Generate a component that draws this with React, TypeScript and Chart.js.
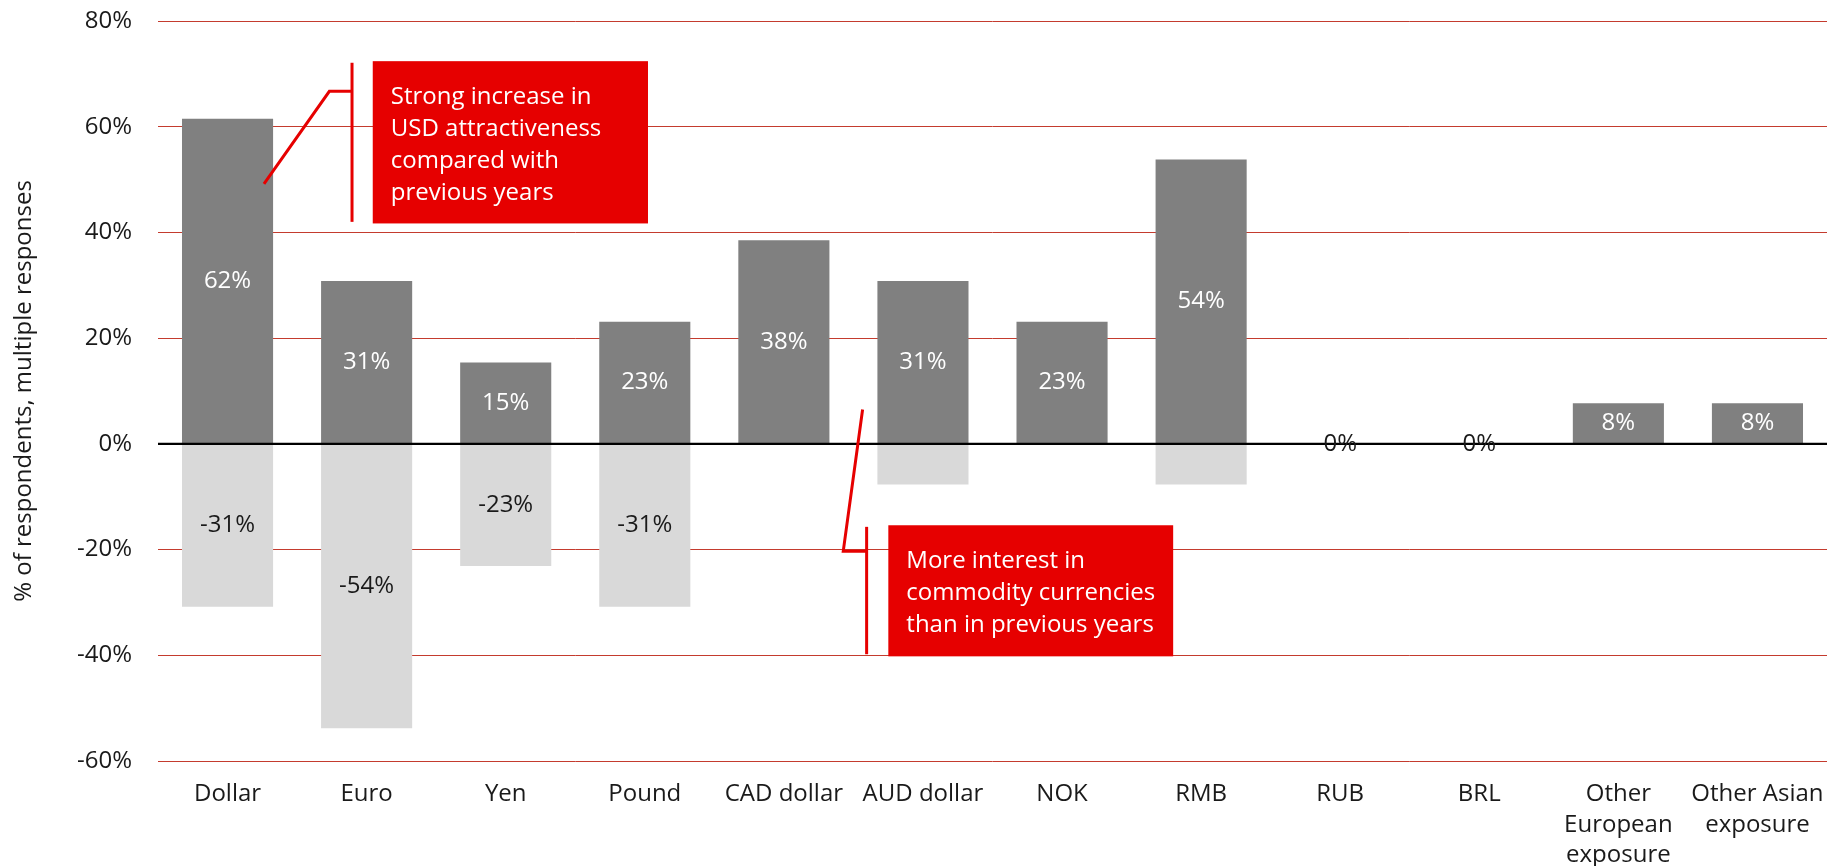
import React, { useEffect, useRef } from 'react';
import { Chart, registerables } from 'chart.js';

Chart.register(...registerables);

// ---------- data ----------
const categories: (string | string[])[] = [
  'Dollar', 'Euro', 'Yen', 'Pound', 'CAD dollar', 'AUD dollar', 'NOK', 'RMB', 'RUB', 'BRL',
  ['Other', 'European', 'exposure'], ['Other Asian', 'exposure'],
];
const increaseValues = [61.5, 30.8, 15.4, 23.1, 38.5, 30.8, 23.1, 53.8, 0, 0, 7.7, 7.7];
const decreaseValues = [-30.8, -53.8, -23.1, -30.8, 0, -7.7, 0, -7.7, 0, 0, 0, 0];
const increaseLabels = ['62%', '31%', '15%', '23%', '38%', '31%', '23%', '54%', '0%', '0%', '8%', '8%'];
const decreaseLabels = ['-31%', '-54%', '-23%', '-31%', '', '', '', '', '', '', '', ''];
const yTickValues = [-60, -40, -20, 0, 20, 40, 60, 80];
const yAxisTitle = '% of respondents, multiple responses';

const callouts = [
  {
    lines: ['Strong increase in', 'USD attractiveness', 'compared with', 'previous years'],
    box: { x0: 1.044, x1: 3.023, y0: 72.4, y1: 41.7 },
    bracket: { x: 0.895, y0: 72.1, y1: 42.0 },
    leader: [[0.262, 49.2], [0.732, 66.7], [0.895, 66.7]],
  },
  {
    lines: ['More interest in', 'commodity currencies', 'than in previous years'],
    box: { x0: 4.751, x1: 6.799, y0: -15.4, y1: -40.2 },
    bracket: { x: 4.595, y0: -15.7, y1: -39.8 },
    leader: [[4.566, 6.5], [4.427, -20.3], [4.595, -20.3]],
  },
];

// ---------- styles ----------
const FONT = '"Open Sans", "Noto Sans", sans-serif';
const FONT_SIZE = 24;
const FONT_WEIGHT = '400';
const TEXT_DARK = '#1a1a1a';
const RED = '#e60000';
const GRID_RED = '#c43b2e';

const overlayPlugin = {
  id: 'overlay',
  afterDatasetsDraw(chart: any) {
    const { ctx, chartArea } = chart;
    const xs = chart.scales.x;
    const ys = chart.scales.y;
    ctx.save();
    // zero line
    const y0 = ys.getPixelForValue(0);
    ctx.strokeStyle = '#000';
    ctx.lineWidth = 2.2;
    ctx.beginPath();
    ctx.moveTo(chartArea.left, y0);
    ctx.lineTo(chartArea.right, y0);
    ctx.stroke();

    // value labels
    ctx.font = `${FONT_WEIGHT} ${FONT_SIZE}px ${FONT}`;
    ctx.textAlign = 'center';
    ctx.textBaseline = 'middle';
    const labelSets = [increaseLabels, decreaseLabels];
    chart.data.datasets.forEach((ds: any, di: number) => {
      const meta = chart.getDatasetMeta(di);
      meta.data.forEach((el: any, i: number) => {
        const txt = labelSets[di][i];
        if (!txt) return;
        const v = ds.data[i];
        const cy = (el.y + el.base) / 2;
        ctx.fillStyle = di === 0 && v !== 0 ? '#ffffff' : TEXT_DARK;
        ctx.fillText(txt, el.x, cy);
      });
    });

    // callouts
    const px = (v: number) => xs.getPixelForValue(v);
    const py = (v: number) => ys.getPixelForValue(v);
    callouts.forEach((c) => {
      const bx0 = px(c.box.x0), bx1 = px(c.box.x1);
      const by0 = py(c.box.y0), by1 = py(c.box.y1);
      ctx.fillStyle = RED;
      ctx.fillRect(bx0, by0, bx1 - bx0, by1 - by0);
      ctx.strokeStyle = RED;
      ctx.lineWidth = 3;
      ctx.lineCap = 'butt';
      ctx.lineJoin = 'miter';
      ctx.beginPath();
      ctx.moveTo(px(c.bracket.x), py(c.bracket.y0));
      ctx.lineTo(px(c.bracket.x), py(c.bracket.y1));
      ctx.stroke();
      ctx.beginPath();
      c.leader.forEach((p, k) => {
        if (k === 0) ctx.moveTo(px(p[0]), py(p[1]));
        else ctx.lineTo(px(p[0]), py(p[1]));
      });
      ctx.stroke();
      ctx.fillStyle = '#ffffff';
      ctx.textAlign = 'left';
      ctx.textBaseline = 'alphabetic';
      ctx.font = `${FONT_WEIGHT} ${FONT_SIZE}px ${FONT}`;
      c.lines.forEach((ln, k) => {
        ctx.fillText(ln, bx0 + 18, by0 + 43 + k * 32);
      });
    });
    ctx.restore();
  },
};

export default function App() {
  const canvasRef = useRef<HTMLCanvasElement | null>(null);

  useEffect(() => {
    document.body.style.margin = '0';
    const canvas = canvasRef.current;
    if (!canvas) return;
    const chart = new Chart(canvas, {
      type: 'bar',
      data: {
        labels: categories as any,
        datasets: [
          {
            label: 'Increase',
            data: increaseValues,
            backgroundColor: '#808080',
            borderWidth: 0,
            barPercentage: 0.655,
            categoryPercentage: 1,
          },
          {
            label: 'Decrease',
            data: decreaseValues,
            backgroundColor: '#d9d9d9',
            borderWidth: 0,
            barPercentage: 0.655,
            categoryPercentage: 1,
          },
        ],
      },
      options: {
        responsive: false,
        animation: false,
        events: [],
        layout: { padding: { left: 0, right: 9, top: 21, bottom: 0 } },
        plugins: {
          legend: { display: false },
          tooltip: { enabled: false },
          title: { display: false },
        },
        scales: {
          x: {
            stacked: true,
            grid: { display: false, drawTicks: false },
            border: { display: false },
            ticks: {
              color: TEXT_DARK,
              font: { family: FONT, size: FONT_SIZE, weight: FONT_WEIGHT as any, lineHeight: 1.27 },
              padding: 18,
              maxRotation: 0,
              autoSkip: false,
            },
            afterFit: (scale: any) => {
              scale.height = 105;
              scale.paddingLeft = 0;
              scale.paddingRight = 0;
            },
          },
          y: {
            stacked: true,
            min: -60,
            max: 80,
            afterBuildTicks: (scale: any) => {
              scale.ticks = yTickValues.map((v) => ({ value: v }));
            },
            grid: {
              color: (c: any) => (c.tick && c.tick.value === 0 ? 'rgba(0,0,0,0)' : GRID_RED),
              lineWidth: 1,
              drawTicks: false,
            },
            border: { display: false },
            ticks: {
              color: TEXT_DARK,
              font: { family: FONT, size: FONT_SIZE, weight: FONT_WEIGHT as any },
              padding: 26,
              callback: (v: any) => `${v}%`,
            },
            title: {
              display: true,
              text: yAxisTitle,
              color: TEXT_DARK,
              font: { family: FONT, size: FONT_SIZE, weight: FONT_WEIGHT as any, lineHeight: 1.2 },
              padding: { top: 10, bottom: 0 },
            },
            afterFit: (scale: any) => {
              scale.width = 158;
              scale.paddingTop = 0;
              scale.paddingBottom = 0;
            },
          },
        },
      },
      plugins: [overlayPlugin],
    });
    return () => chart.destroy();
  }, []);

  return (
    <div style={{ position: 'absolute', left: 0, top: 0, width: 1836, height: 866 }}>
      <canvas ref={canvasRef} width={1836} height={866} style={{ width: 1836, height: 866 }} />
    </div>
  );
}
